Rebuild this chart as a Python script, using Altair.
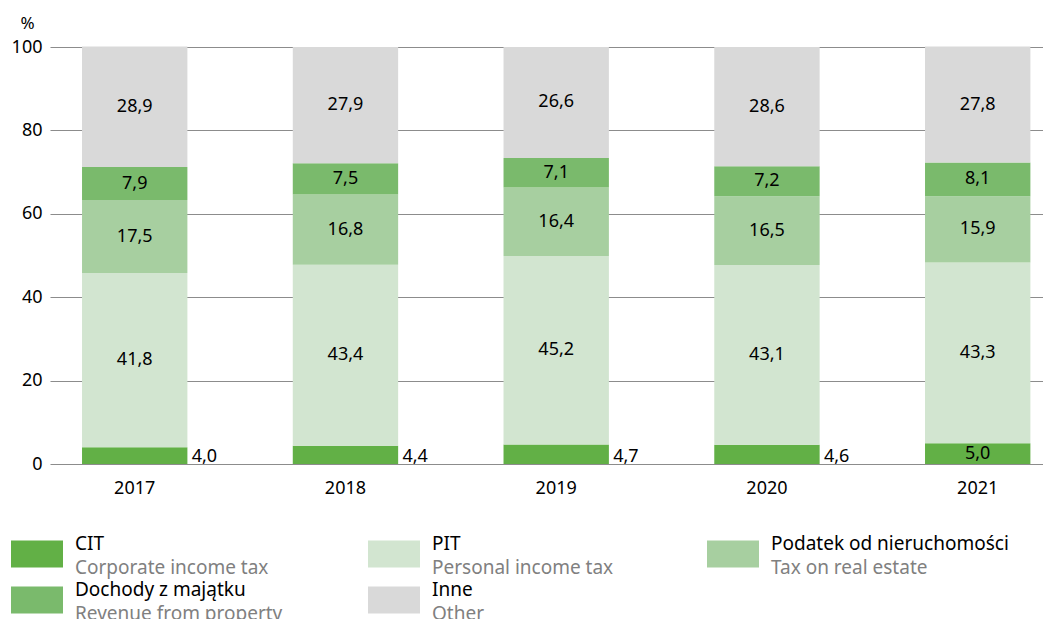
import altair as alt
import pandas as pd

years = ["2017", "2018", "2019", "2020", "2021"]
categories = ["CIT", "PIT", "Podatek od nieruchomości", "Dochody z majątku", "Inne"]
english = ["Corporate income tax", "Personal income tax", "Tax on real estate",
           "Revenue from property", "Other"]
colors = ["#62b046", "#d2e5d0", "#a7cfa0", "#7aba6c", "#d9d9d9"]

cit = [4.0, 4.4, 4.7, 4.6, 5.0]
pit = [41.8, 43.4, 45.2, 43.1, 43.3]
podatek = [17.5, 16.8, 16.4, 16.5, 15.9]
dochody = [7.9, 7.5, 7.1, 7.2, 8.1]
inne = [28.9, 27.9, 26.6, 28.6, 27.8]
cit_label_outside = [True, True, True, True, False]

legend_col = [0, 1, 2, 0, 1]
legend_row = [0, 0, 0, 1, 1]

series = [cit, pit, podatek, dochody, inne]
rows = []
for yi, yr in enumerate(years):
    base = 0.0
    for ci, cat in enumerate(categories):
        v = series[ci][yi]
        rows.append({
            "year": yr, "cat": cat, "order": ci, "value": v,
            "start": base, "end": base + v, "mid": base + v / 2,
            "label": f"{v:.1f}".replace(".", ","),
            "outside": bool(ci == 0 and cit_label_outside[yi]),
        })
        base += v
df = pd.DataFrame(rows)

FONT = "Noto Sans"
W = 993

x = alt.X("year:N", title=None,
          scale=alt.Scale(paddingInner=0.5, paddingOuter=0.1059, align=0.7175),
          axis=alt.Axis(labelAngle=0, ticks=False, domain=False, labelFontSize=18,
                        labelFont=FONT, labelColor="black", labelPadding=15))
y = alt.Y("start:Q", title="%",
          scale=alt.Scale(domain=[0, 100], nice=False),
          axis=alt.Axis(values=[0, 20, 40, 60, 80, 100], ticks=False, domain=False,
                        grid=True, gridColor="#8c8c8c", gridWidth=1.2,
                        labelFontSize=18, labelFont=FONT, labelColor="black",
                        labelPadding=8, minExtent=42, maxExtent=42,
                        titleAngle=0, titleFont=FONT, titleFontSize=17,
                        titleFontWeight="normal", titleColor="black",
                        titleX=-23, titleY=-19, titleAlign="center",
                        titleBaseline="alphabetic"))

color = alt.Color("cat:N", scale=alt.Scale(domain=categories, range=colors), legend=None)

bars = alt.Chart(df).mark_bar().encode(x=x, y=y, y2="end:Q", color=color)

inside = alt.Chart(df).transform_filter("!datum.outside").mark_text(
    font=FONT, fontSize=18, color="black", baseline="middle", align="center"
).encode(x="year:N", y="mid:Q", text="label:N")

outside = alt.Chart(df).transform_filter("datum.outside").mark_text(
    font=FONT, fontSize=18, color="black", baseline="alphabetic", align="left",
    dx=57, dy=-2
).encode(x="year:N", y=alt.Y("start:Q"), text="label:N")

main = alt.layer(bars, inside, outside).properties(width=W, height=417)

LH = 90
ROW0 = 25
STEP = 46
leg = pd.DataFrame({"cat": categories, "en": english, "col": legend_col, "row": legend_row})
lx = alt.X("col:Q", scale=alt.Scale(domain=[0, 1, 2], range=[-13, 344, 683]), axis=None)
ly = alt.Y("row:Q", scale=alt.Scale(domain=[-ROW0 / STEP, (LH - ROW0) / STEP], reverse=True),
           axis=alt.Axis(labels=False, ticks=False, domain=False, grid=False,
                         title=None, minExtent=42, maxExtent=42))

swatch = alt.Chart(leg).mark_point(
    shape="M-1,-0.52H1V0.52H-1Z", filled=True, size=2704, opacity=1, strokeWidth=0
).encode(x=lx, y=ly, color=color)

name_txt = alt.Chart(leg).mark_text(
    font=FONT, fontSize=19, color="black", align="left", baseline="alphabetic",
    dx=38, dy=-4.5, clip=True
).encode(x=lx, y=ly, text="cat:N")

en_txt = alt.Chart(leg).mark_text(
    font=FONT, fontSize=19, color="#808080", align="left", baseline="alphabetic",
    dx=38, dy=19.5, clip=True
).encode(x=lx, y=ly, text="en:N")

legend = alt.layer(swatch, name_txt, en_txt).properties(width=W, height=LH)

chart = alt.vconcat(main, legend, spacing=32).properties(
    padding={"left": 0, "right": 0, "top": 6, "bottom": 0}
).configure_view(stroke=None)

chart.save("out.html", embed_options={"renderer": "svg", "actions": False})
